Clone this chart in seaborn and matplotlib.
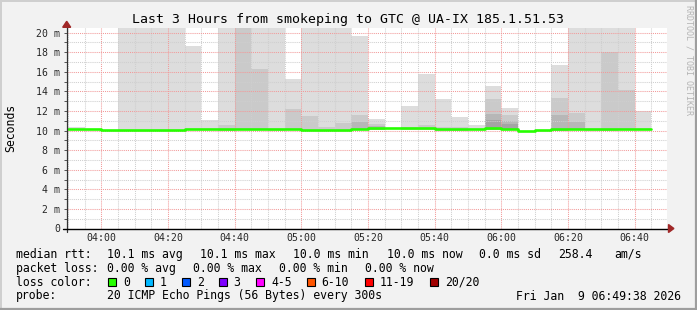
import numpy as np
import pandas as pd
import matplotlib
matplotlib.use("Agg")
import matplotlib.pyplot as plt
import seaborn as sns
from matplotlib.patches import Rectangle, Polygon
from matplotlib.lines import Line2D

nan = np.nan

# ---------------- data ----------------
title = "Last 3 Hours from smokeping to GTC @ UA-IX 185.1.51.53"
window_start = "03:49:38"
window_end = "06:49:38"
slot_start = "03:50"          # first 5-minute step (300 s)
step_min = 5
x_tick_labels = ["04:00", "04:20", "04:40", "05:00", "05:20",
                 "05:40", "06:00", "06:20", "06:40"]
y_ticks_ms = [0, 2, 4, 6, 8, 10, 12, 14, 16, 18, 20]
y_tick_labels = ["0", "2 m", "4 m", "6 m", "8 m", "10 m", "12 m",
                 "14 m", "16 m", "18 m", "20 m"]

# median rtt per 5-minute step (ms)
median_ms = [10.19, 10.19, 10.06, 10.06, 10.06, 10.06, 10.06, 10.19, 10.18,
             10.19, 10.19, 10.19, 10.19, 10.18, 10.08, 10.08, 10.10, 10.19,
             10.22, 10.26, 10.29, 10.29, 10.12, 10.12, 10.12, 10.22, 10.12,
             9.98, 10.02, 10.12, 10.19, 10.12, 10.12, 10.19, 10.12, nan]
# lowest ping per step (ms)
ping_min_ms = [10.10, 10.12, 10.00, 9.97, 9.97, 9.97, 9.97, 10.12, 10.10,
               9.96, 10.08, 10.10, 9.95, 10.05, 10.00, 9.98, 10.00, 10.08,
               10.10, 10.15, 10.10, 10.08, 9.98, 10.00, 10.05, 10.10, 10.05,
               9.95, 9.98, 10.00, 10.05, 9.95, 9.96, 10.05, 10.05, nan]
# smoke bands: upper edges of ping ranks 20, 19, 18, 17 (ms)
band1_ms = [10.36, nan, nan, 27.5, 25.1, 23.8, 22.9, 18.62, 11.07, 29.0,
            33.0, 26.0, 24.5, 15.25, 23.0, 21.8, 22.6, 19.70, 11.17, nan,
            12.50, 15.77, 13.20, 11.38, 10.56, 14.54, 12.30, nan, nan, 16.68,
            25.0, 21.5, 24.0, 26.5, 12.02, nan]
band2_ms = [nan, nan, nan, nan, nan, nan, nan, nan, nan, 10.56,
            21.2, 16.27, nan, 12.19, 11.50, 10.40, 10.80, 11.58, 10.66, nan,
            10.36, 10.56, 10.36, 10.36, nan, 13.20, 11.58, nan, nan, 13.32,
            11.80, nan, 17.98, 14.13, nan, nan]
band3_ms = [nan, nan, nan, nan, nan, nan, nan, nan, nan, nan,
            nan, nan, nan, nan, nan, nan, nan, 10.83, 10.45, nan,
            nan, nan, nan, nan, nan, 11.70, 10.95, nan, nan, 11.55,
            10.90, nan, nan, nan, nan, nan]
band4_ms = [nan, nan, nan, nan, nan, nan, nan, nan, nan, nan,
            nan, nan, nan, nan, nan, nan, nan, nan, nan, nan,
            nan, nan, nan, nan, nan, 11.07, 10.63, nan, nan, nan,
            nan, nan, nan, nan, nan, nan]
smoke_shades = ["#dddddd", "#cacaca", "#b7b7b7", "#a4a4a4"]

loss_labels = ["0", "1", "2", "3", "4-5", "6-10", "11-19", "20/20"]
loss_colors = ["#26ff00", "#00b8ff", "#0059ff", "#7e00ff",
               "#ff00ff", "#ff5500", "#ff0000", "#a10000"]

stats_rtt = ["10.1 ms avg", "10.1 ms max", "10.0 ms min", "10.0 ms now",
             "0.0 ms sd", "258.4", "am/s"]
stats_loss = ["0.00 % avg", "0.00 % max", "0.00 % min", "0.00 % now"]
probe_text = "20 ICMP Echo Pings (56 Bytes) every 300s"
stamp_text = "Fri Jan  9 06:49:38 2026"

# ---------------- helpers ----------------
def tmin(s):
    parts = [float(p) for p in s.split(":")]
    while len(parts) < 3:
        parts.append(0.0)
    return parts[0] * 60 + parts[1] + parts[2] / 60


W, H = 697, 310


def fx(x):
    return x / W


def fy(y):
    return 1 - y / H


sns.set_theme(style="white")
plt.rcParams["font.family"] = ["DejaVu Sans Mono", "DejaVu Sans"]
plt.rcParams["text.color"] = "black"

fig = plt.figure(figsize=(W / 100, H / 100), dpi=100, facecolor="#f2f2f2")
ax = fig.add_axes([fx(66.7), fy(228.5), 600 / W, 200.2 / H])
ax.set_facecolor("white")

slots = tmin(slot_start) + step_min * np.arange(len(median_ms))
pmin = np.array(ping_min_ms, dtype=float)

# smoke
for band, shade in zip([band1_ms, band2_ms, band3_ms, band4_ms], smoke_shades):
    top = np.array(band, dtype=float)
    m = ~np.isnan(top) & ~np.isnan(pmin)
    ax.bar(slots[m], top[m] - pmin[m], bottom=pmin[m], width=step_min,
           align="edge", color=shade, linewidth=0, zorder=1)

# median line (loss 0 -> green)
med = np.array(median_ms, dtype=float)
valid = ~np.isnan(med)
xs = np.append(slots[valid], slots[valid][-1] + step_min)
ys = np.append(med[valid], med[valid][-1])
df = pd.DataFrame({"t": xs, "rtt": ys})
sns.lineplot(data=df, x="t", y="rtt", ax=ax, color=loss_colors[0],
             linewidth=1.9, drawstyle="steps-post", estimator=None,
             sort=False, zorder=4)

# axes / grid
ax.set_xlim(tmin(window_start), tmin(window_end))
ax.set_ylim(0, 20.45)
ax.set_xticks([tmin(t) for t in x_tick_labels])
ax.set_xticklabels(x_tick_labels)
ax.set_xticks(slots, minor=True)
ax.set_yticks(y_ticks_ms)
ax.set_yticklabels(y_tick_labels)
ax.set_yticks(np.arange(0, 21, 1), minor=True)
ax.set_xlabel("")
ax.set_ylabel("")
ax.set_axisbelow(False)
ax.grid(which="major", color="#f29a9a", linestyle=(0, (1, 1)), linewidth=0.75)
ax.grid(which="minor", color="#cfcfcf", linestyle=(0, (1, 1)), linewidth=0.75)
for s in ax.spines.values():
    s.set_visible(False)
ax.tick_params(axis="y", which="both", length=2.5, width=0.7, color="#555555",
               direction="out", pad=2.3, labelsize=7.1, left=True)
ax.tick_params(axis="x", which="both", length=0, pad=3.4, labelsize=7.1,
               bottom=True)

# axis lines with arrows
ax.plot([0, 0], [-0.015, 1.02], transform=ax.transAxes, color="#333333",
        lw=0.9, clip_on=False, zorder=5)
ax.plot([-0.006, 1.006], [0, 0], transform=ax.transAxes, color="black",
        lw=1.0, clip_on=False, zorder=5)
ax.add_patch(Polygon([[-4 / 600, 1.005], [4 / 600, 1.005], [0, 1.035]],
                     closed=True, transform=ax.transAxes, color="#a02828",
                     clip_on=False, zorder=6))
ax.add_patch(Polygon([[1.003, -4 / 200], [1.003, 4 / 200], [1.012, 0]],
                     closed=True, transform=ax.transAxes, color="#a02828",
                     clip_on=False, zorder=6))

# titles
fig.text(fx(347.5), fy(19), title, ha="center", va="center", fontsize=9.5)
fig.text(fx(10.5), fy(127.5), "Seconds", rotation=90, ha="center",
         va="center", fontsize=8.3)
fig.text(fx(688.5), fy(5), "RRDTOOL / TOBI OETIKER", rotation=270,
         ha="center", va="top", fontsize=6.0, color="#b4b4b4")

# legend / stats
fs = 8.3
y1, y2, y3, y4 = 254.3, 268.3, 282.3, 296.0
fig.text(fx(16), fy(y1), "median rtt:", va="center", fontsize=fs)
for x, s in zip([107.3, 200, 293, 386.7, 479.3, 558.3, 614], stats_rtt):
    fig.text(fx(x), fy(y1), s, va="center", fontsize=fs)
fig.text(fx(16), fy(y2), "packet loss:", va="center", fontsize=fs)
for x, s in zip([107.3, 193.3, 279.3, 365], stats_loss):
    fig.text(fx(x), fy(y2), s, va="center", fontsize=fs)
fig.text(fx(16), fy(y3), "loss color:", va="center", fontsize=fs)
box_x = [108.3, 145, 181.7, 219, 256, 306.7, 365, 430]
lab_x = [123.3, 160, 196.7, 233.3, 271, 321.7, 380, 445]
for bx, lx, lab, col in zip(box_x, lab_x, loss_labels, loss_colors):
    fig.add_artist(Rectangle((fx(bx), fy(286)), 8 / W, 8 / H,
                             transform=fig.transFigure, facecolor=col,
                             edgecolor="black", linewidth=0.8))
    fig.text(fx(lx), fy(y3), lab, va="center", fontsize=fs)
fig.text(fx(16), fy(y4), "probe:", va="center", fontsize=fs)
fig.text(fx(107.3), fy(y4), probe_text, va="center", fontsize=fs)
fig.text(fx(680.5), fy(y4), stamp_text, va="center", ha="right", fontsize=fs)

# 3-D frame
fig.add_artist(Line2D([0, 1], [fy(0.8), fy(0.8)], transform=fig.transFigure,
                      color="#cfcfcf", lw=1.4))
fig.add_artist(Line2D([fx(0.8), fx(0.8)], [0, 1], transform=fig.transFigure,
                      color="#cfcfcf", lw=1.4))
fig.add_artist(Line2D([0, 1], [fy(309), fy(309)], transform=fig.transFigure,
                      color="#9e9e9e", lw=1.6))
fig.add_artist(Line2D([fx(696), fx(696)], [0, 1], transform=fig.transFigure,
                      color="#9e9e9e", lw=1.6))

fig.savefig("out.png", dpi=100, facecolor=fig.get_facecolor())
